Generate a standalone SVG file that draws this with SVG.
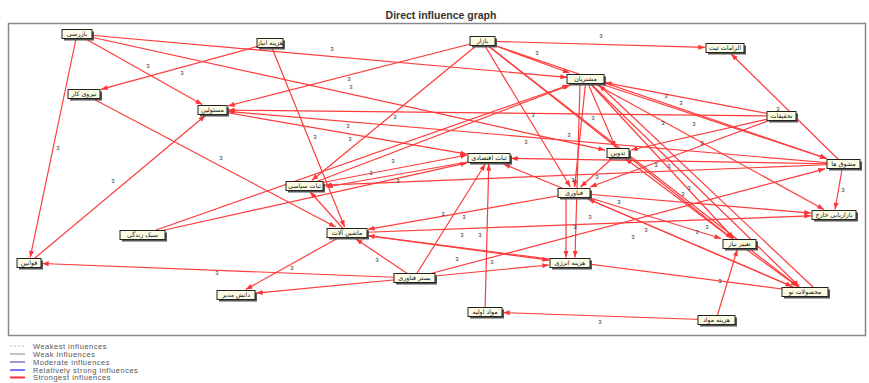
<svg xmlns="http://www.w3.org/2000/svg" width="869" height="383" viewBox="0 0 869 383">
<defs>
<marker id="ah" viewBox="0 0 8 6" refX="8" refY="3" markerWidth="7" markerHeight="5" orient="auto" markerUnits="userSpaceOnUse"><path d="M0,0 L8,3 L0,6 z" fill="#ff3333"/></marker>
<style>
.e{stroke:#ff3b3b;stroke-width:1.2;fill:none;marker-end:url(#ah)}
.lb{font-family:"Liberation Sans",Arial,sans-serif;font-size:6px;fill:#333;text-anchor:middle}
.sh{fill:#555}
.bx{fill:#fcfce4;stroke:#222;stroke-width:1}
.nt{font-family:"DejaVu Sans","Noto Sans",sans-serif;font-size:6.3px;fill:#111;text-anchor:middle}
.lg{font-family:"Liberation Sans",Arial,sans-serif;font-size:7.5px;fill:#555;letter-spacing:0.5px}
</style>
</defs>
<rect width="869" height="383" fill="#fff"/>
<text x="441" y="19" font-family="Liberation Sans, Arial, sans-serif" font-size="10.5" font-weight="bold" fill="#333" text-anchor="middle">Direct influence graph</text>
<rect x="8.5" y="23.5" width="857" height="312" fill="none" stroke="#888" stroke-width="1.5"/>
<g id="connectors">
<path class="e" d="M77,34 L567,77.3"/>
<path class="e" d="M77,34 L605,150.1"/>
<path class="e" d="M77,34 L202.2,104.5"/>
<path class="e" d="M77,34 L30.2,257.5"/>
<path class="e" d="M270,43 L101,89.3"/>
<path class="e" d="M270,43 L344.6,227"/>
<path class="e" d="M482,41 L705,47.4"/>
<path class="e" d="M482,41 L569.6,73"/>
<path class="e" d="M482,41 L228,105.9"/>
<path class="e" d="M482,41 L570.4,187"/>
<path class="e" d="M482,41 L311.7,180.5"/>
<path class="e" d="M482,41 L732,238.5"/>
<path class="e" d="M482,41 L797.9,286.5"/>
<path class="e" d="M142,235 L568.9,85"/>
<path class="e" d="M142,235 L467,162.9"/>
<path class="e" d="M320,183 L467,155"/>
<path class="e" d="M468,162 L326,187"/>
<path class="e" d="M843,164 L325,185.2"/>
<path class="e" d="M347,233 L309.9,191.5"/>
<path class="e" d="M84,94 L335.6,227"/>
<path class="e" d="M29,263 L205.4,115.5"/>
<path class="e" d="M212,110 L467,154.2"/>
<path class="e" d="M843,164 L228,111.4"/>
<path class="e" d="M485,312 L488.8,164"/>
<path class="e" d="M414,278 L485.3,164"/>
<path class="e" d="M574,193 L503.6,164"/>
<path class="e" d="M843,164 L511,158.4"/>
<path class="e" d="M781,116 L605,82.6"/>
<path class="e" d="M843,164 L731.1,54"/>
<path class="e" d="M586,79 L615.6,147.5"/>
<path class="e" d="M586,79 L574.6,187"/>
<path class="e" d="M586,79 L733.9,238.5"/>
<path class="e" d="M586,79 L799.3,286.5"/>
<path class="e" d="M586,79 L826.4,158.5"/>
<path class="e" d="M814,288 L599,85"/>
<path class="e" d="M781,116 L631,150"/>
<path class="e" d="M618,153 L580.6,187"/>
<path class="e" d="M566,198 L566,257.5"/>
<path class="e" d="M580,84 L575,257.5"/>
<path class="e" d="M574,193 L811,213.1"/>
<path class="e" d="M574,193 L368,229.3"/>
<path class="e" d="M347,233 L549,260.2"/>
<path class="e" d="M414,278 L549,265"/>
<path class="e" d="M414,278 L825,168.8"/>
<path class="e" d="M414,278 L42,263.5"/>
<path class="e" d="M414,278 L256,293.1"/>
<path class="e" d="M347,233 L245.8,289.5"/>
<path class="e" d="M414,278 L355.9,239"/>
<path class="e" d="M716,320 L503,312.6"/>
<path class="e" d="M716,320 L737.3,249.5"/>
<path class="e" d="M843,164 L835,209.5"/>
<path class="e" d="M805,292 L588,199"/>
<path class="e" d="M739,244 L625.3,158.5"/>
<path class="e" d="M805,292 L368,235.7"/>
<path class="e" d="M347,233 L811,215.8"/>
<path class="e" d="M781,116 L590.1,187"/>
<path class="e" d="M305,186 L570.3,85"/>
<path class="e" d="M482,41 L826.9,158.5"/>
<path class="e" d="M586,79 L824,209.5"/>
<path class="e" d="M574,193 L721.2,238.5"/>
<path class="e" d="M574,193 L792.2,286.5"/>
<path class="e" d="M739,244 L797.4,286.5"/>
<path class="e" d="M781,116 L228,110.2"/>
<g>
<text class="lb" x="332" y="51">3</text>
<text class="lb" x="349" y="81">3</text>
<text class="lb" x="351" y="89">3</text>
<text class="lb" x="148" y="68">3</text>
<text class="lb" x="182" y="75">3</text>
<text class="lb" x="58" y="150">3</text>
<text class="lb" x="113" y="183">3</text>
<text class="lb" x="221" y="160">3</text>
<text class="lb" x="601" y="38">3</text>
<text class="lb" x="537" y="55">3</text>
<text class="lb" x="533" y="117">3</text>
<text class="lb" x="395" y="119">3</text>
<text class="lb" x="666" y="98">3</text>
<text class="lb" x="681" y="105">3</text>
<text class="lb" x="778" y="111">3</text>
<text class="lb" x="593" y="120">3</text>
<text class="lb" x="663" y="125">3</text>
<text class="lb" x="694" y="126">3</text>
<text class="lb" x="702" y="145">3</text>
<text class="lb" x="656" y="167">3</text>
<text class="lb" x="669" y="168">3</text>
<text class="lb" x="597" y="179">3</text>
<text class="lb" x="619" y="204">3</text>
<text class="lb" x="590" y="219">3</text>
<text class="lb" x="575" y="229">3</text>
<text class="lb" x="633" y="239">3</text>
<text class="lb" x="646" y="232">3</text>
<text class="lb" x="697" y="234">3</text>
<text class="lb" x="707" y="229">3</text>
<text class="lb" x="689" y="190">3</text>
<text class="lb" x="683" y="196">3</text>
<text class="lb" x="843" y="192">3</text>
<text class="lb" x="348" y="128">3</text>
<text class="lb" x="315" y="139">3</text>
<text class="lb" x="350" y="141">3</text>
<text class="lb" x="393" y="163">3</text>
<text class="lb" x="371" y="175">3</text>
<text class="lb" x="398" y="183">3</text>
<text class="lb" x="443" y="216">3</text>
<text class="lb" x="464" y="219">3</text>
<text class="lb" x="462" y="237">3</text>
<text class="lb" x="480" y="237">3</text>
<text class="lb" x="377" y="262">3</text>
<text class="lb" x="457" y="261">3</text>
<text class="lb" x="492" y="264">3</text>
<text class="lb" x="217" y="275">3</text>
<text class="lb" x="292" y="270">3</text>
<text class="lb" x="720" y="283">3</text>
<text class="lb" x="600" y="324">3</text>
<text class="lb" x="526" y="144">3</text>
<text class="lb" x="569" y="137">3</text>
<text class="lb" x="573" y="182">3</text>
</g>
</g>
<g id="n-bazrasi"><rect class="sh" x="64" y="31.5" width="30" height="9"/><rect class="bx" x="62" y="29.5" width="30" height="9"/><text class="nt" x="77" y="36">بازرسی</text></g>
<g id="n-hazine-anbar"><rect class="sh" x="259" y="40.5" width="26" height="9"/><rect class="bx" x="257" y="38.5" width="26" height="9"/><text class="nt" x="270" y="45">هزینه انبار</text></g>
<g id="n-bazar"><rect class="sh" x="472" y="38.5" width="25" height="9"/><rect class="bx" x="470" y="36.5" width="25" height="9"/><text class="nt" x="482.5" y="43">بازار</text></g>
<g id="n-elzamat"><rect class="sh" x="708" y="45.5" width="38" height="9"/><rect class="bx" x="706" y="43.5" width="38" height="9"/><text class="nt" x="725" y="50">الزامات ثبت</text></g>
<g id="n-niroo-kar"><rect class="sh" x="70" y="91.5" width="32" height="9"/><rect class="bx" x="68" y="89.5" width="32" height="9"/><text class="nt" x="84" y="96">نیروی کار</text></g>
<g id="n-masoolin"><rect class="sh" x="200" y="107.5" width="29" height="9"/><rect class="bx" x="198" y="105.5" width="29" height="9"/><text class="nt" x="212.5" y="112">مسئولین</text></g>
<g id="n-moshtarian"><rect class="sh" x="569" y="76.5" width="37" height="9"/><rect class="bx" x="567" y="74.5" width="37" height="9"/><text class="nt" x="585.5" y="81">مشتریان</text></g>
<g id="n-tahghighat"><rect class="sh" x="769" y="113.5" width="29" height="9"/><rect class="bx" x="767" y="111.5" width="29" height="9"/><text class="nt" x="781.5" y="118">تحقیقات</text></g>
<g id="n-tadvin"><rect class="sh" x="609" y="150.5" width="22" height="9"/><rect class="bx" x="607" y="148.5" width="22" height="9"/><text class="nt" x="618" y="155">تدوین</text></g>
<g id="n-sabat-eghtesadi"><rect class="sh" x="470" y="155.5" width="42" height="9"/><rect class="bx" x="468" y="153.5" width="42" height="9"/><text class="nt" x="489" y="160">ثبات اقتصادی</text></g>
<g id="n-moshavegh"><rect class="sh" x="829" y="161.5" width="33" height="9"/><rect class="bx" x="827" y="159.5" width="33" height="9"/><text class="nt" x="843.5" y="166">مشوق ها</text></g>
<g id="n-sabat-siasi"><rect class="sh" x="288" y="183.5" width="37" height="9"/><rect class="bx" x="286" y="181.5" width="37" height="9"/><text class="nt" x="304.5" y="188">ثبات سیاسی</text></g>
<g id="n-fanavari"><rect class="sh" x="560" y="190.5" width="32" height="9"/><rect class="bx" x="558" y="188.5" width="32" height="9"/><text class="nt" x="574" y="195">فناوری</text></g>
<g id="n-bazaryabi"><rect class="sh" x="814" y="212.5" width="44" height="9"/><rect class="bx" x="812" y="210.5" width="44" height="9"/><text class="nt" x="834" y="217">بازاریابی خارج</text></g>
<g id="n-sabk-zendegi"><rect class="sh" x="122" y="232.5" width="45" height="9"/><rect class="bx" x="120" y="230.5" width="45" height="9"/><text class="nt" x="142.5" y="237">سبک زندگی</text></g>
<g id="n-mashinalat"><rect class="sh" x="329" y="230.5" width="40" height="9"/><rect class="bx" x="327" y="228.5" width="40" height="9"/><text class="nt" x="347" y="235">ماشین آلات</text></g>
<g id="n-taghir-niaz"><rect class="sh" x="725" y="241.5" width="33" height="9"/><rect class="bx" x="723" y="239.5" width="33" height="9"/><text class="nt" x="739.5" y="246">تغییر نیاز</text></g>
<g id="n-hazine-energy"><rect class="sh" x="552" y="260.5" width="40" height="9"/><rect class="bx" x="550" y="258.5" width="40" height="9"/><text class="nt" x="570" y="265">هزینه انرژی</text></g>
<g id="n-ghavanin"><rect class="sh" x="19" y="260.5" width="24" height="9"/><rect class="bx" x="17" y="258.5" width="24" height="9"/><text class="nt" x="29" y="265">قوانین</text></g>
<g id="n-bastar-fanavari"><rect class="sh" x="396" y="275.5" width="41" height="9"/><rect class="bx" x="394" y="273.5" width="41" height="9"/><text class="nt" x="414.5" y="280">بستر فناوری</text></g>
<g id="n-mahsoolat-no"><rect class="sh" x="784" y="289.5" width="46" height="9"/><rect class="bx" x="782" y="287.5" width="46" height="9"/><text class="nt" x="805" y="294">محصولات نو</text></g>
<g id="n-danesh-modir"><rect class="sh" x="219" y="292.5" width="38" height="9"/><rect class="bx" x="217" y="290.5" width="38" height="9"/><text class="nt" x="236" y="297">دانش مدیر</text></g>
<g id="n-mavad-avalie"><rect class="sh" x="470" y="309.5" width="34" height="9"/><rect class="bx" x="468" y="307.5" width="34" height="9"/><text class="nt" x="485" y="314">مواد اولیه</text></g>
<g id="n-hazine-mavad"><rect class="sh" x="700" y="317.5" width="37" height="9"/><rect class="bx" x="698" y="315.5" width="37" height="9"/><text class="nt" x="716.5" y="322">هزینه مواد</text></g>
<g id="legend">
<line x1="10" y1="346" x2="25" y2="346" stroke="#bbb" stroke-width="1" stroke-dasharray="2,2"/>
<line x1="10" y1="354" x2="25" y2="354" stroke="#888" stroke-width="1"/>
<line x1="10" y1="362" x2="25" y2="362" stroke="#3333aa" stroke-width="1"/>
<line x1="10" y1="370" x2="25" y2="370" stroke="#4d4dff" stroke-width="1.5"/>
<line x1="10" y1="377.5" x2="25" y2="377.5" stroke="#ff3333" stroke-width="2"/>
<text class="lg" x="33" y="348.5">Weakest influences</text>
<text class="lg" x="33" y="356.5">Weak influences</text>
<text class="lg" x="33" y="364.5">Moderate influences</text>
<text class="lg" x="33" y="372.5">Relatively strong influences</text>
<text class="lg" x="33" y="380">Strongest influences</text>
</g>
</svg>
